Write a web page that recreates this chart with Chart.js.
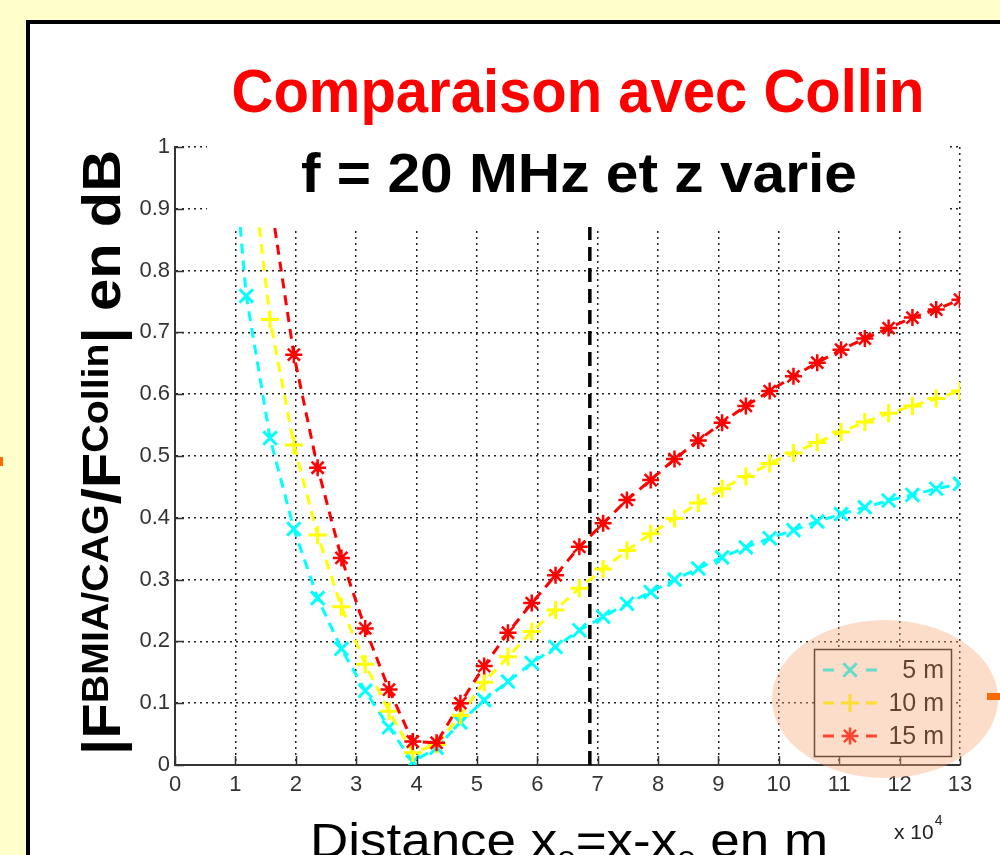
<!DOCTYPE html>
<html>
<head>
<meta charset="utf-8">
<script src="https://cdn.jsdelivr.net/npm/chart.js@4.4.0/dist/chart.umd.min.js"></script>
<style>
    html, body { margin: 0; padding: 0; background: #ffffcc; }
    #wrap { position: relative; width: 1000px; height: 855px; }
</style>
</head>
<body>
<div id="wrap"><canvas id="chart" width="1000" height="855"></canvas></div>
<script>
// distance x (m) of each computed point
const distances = [7860, 11800, 15740, 19680, 23620, 27560, 31500, 35440, 39380, 43320,
    47260, 51200, 55140, 59080, 63020, 66960, 70900, 74840, 78780, 82720,
    86660, 90600, 94540, 98480, 102420, 106360, 110300, 114240, 118180, 122120,
    126060, 130000];

// |F BMIA/CAG / F Collin| en dB, one array per height z
const ratio5m = [1.20, 0.759, 0.529, 0.382, 0.270, 0.188, 0.120, 0.061, 0.005, 0.028,
    0.069, 0.105, 0.135, 0.165, 0.191, 0.218, 0.240, 0.261, 0.280, 0.300,
    0.318, 0.336, 0.352, 0.367, 0.380, 0.394, 0.406, 0.417, 0.428, 0.437,
    0.447, 0.455];
const ratio10m = [1.50, 1.05, 0.721, 0.518, 0.372, 0.256, 0.163, 0.087, 0.020, 0.033,
    0.080, 0.134, 0.175, 0.216, 0.251, 0.286, 0.317, 0.347, 0.374, 0.399,
    0.424, 0.447, 0.467, 0.488, 0.505, 0.522, 0.539, 0.555, 0.569, 0.581,
    0.593, 0.605];
const ratio15m = [1.80, 1.25, 0.92, 0.664, 0.481, 0.335, 0.221, 0.122, 0.038, 0.036,
    0.100, 0.160, 0.214, 0.262, 0.307, 0.353, 0.391, 0.429, 0.461, 0.495,
    0.525, 0.554, 0.581, 0.605, 0.629, 0.651, 0.672, 0.690, 0.707, 0.724,
    0.737, 0.753];

const seriesLabels = ['5 m', '10 m', '15 m'];
const limitX = [68700, 68700];
const limitY = [0, 1];

const FONT = "'Liberation Sans', Arial, sans-serif";

function toPoints(xs, ys) {
    return xs.map((x, i) => ({ x: x, y: ys[i] }));
}

// draws a run of text parts (different sizes / offsets) squeezed to a given length
function drawRich(ctx, parts, fitWidth) {
    let total = 0;
    parts.forEach(p => {
        ctx.font = `${p.weight || 'normal'} ${p.size}px ${FONT}`;
        p.w = ctx.measureText(p.t).width;
        total += p.w;
    });
    const k = fitWidth / total;
    ctx.save();
    ctx.scale(k, 1);
    let x = 0;
    parts.forEach(p => {
        ctx.font = `${p.weight || 'normal'} ${p.size}px ${FONT}`;
        ctx.fillText(p.t, x, p.dy || 0);
        x += p.w;
    });
    ctx.restore();
}

function drawCentered(ctx, text, cx, baseline, font, fitWidth, color) {
    ctx.save();
    ctx.font = font;
    ctx.fillStyle = color;
    ctx.textBaseline = 'alphabetic';
    const w = ctx.measureText(text).width;
    ctx.translate(cx - fitWidth / 2, baseline);
    ctx.scale(fitWidth / w, 1);
    ctx.fillText(text, 0, 0);
    ctx.restore();
}

const framePlugin = {
    id: 'frame',
    beforeDraw(chart) {
        const ctx = chart.ctx;
        ctx.save();
        ctx.fillStyle = '#ffffcc';
        ctx.fillRect(0, 0, chart.width, chart.height);
        ctx.fillStyle = '#ffffff';
        ctx.fillRect(28, 22, 1000, 900);
        ctx.strokeStyle = '#000';
        ctx.lineWidth = 4;
        ctx.beginPath();
        ctx.moveTo(28, 870);
        ctx.lineTo(28, 22);
        ctx.lineTo(1010, 22);
        ctx.stroke();
        ctx.fillStyle = '#ff6a00';
        ctx.fillRect(0, 457, 3, 9);
        ctx.restore();
    }
};

const decorPlugin = {
    id: 'decor',
    afterDraw(chart) {
        const ctx = chart.ctx;
        const xs = chart.scales.x;
        const ys = chart.scales.y;
        const area = chart.chartArea;

        // inward tick marks, matlab style
        ctx.save();
        ctx.strokeStyle = '#333';
        ctx.lineWidth = 1.5;
        ctx.beginPath();
        ys.ticks.forEach(t => {
            const py = Math.round(ys.getPixelForValue(t.value)) + 0.5;
            ctx.moveTo(area.left, py);
            ctx.lineTo(area.left + 9, py);
        });
        xs.ticks.forEach(t => {
            const px = Math.round(xs.getPixelForValue(t.value)) + 0.5;
            ctx.moveTo(px, area.bottom);
            ctx.lineTo(px, area.bottom - 9);
        });
        ctx.stroke();
        ctx.restore();

        // white box behind the inner title
        ctx.save();
        ctx.fillStyle = '#ffffff';
        ctx.fillRect(207, 134, 743, 93);
        ctx.restore();

        drawCentered(ctx, 'Comparaison avec Collin', 578, 112, `bold 61px ${FONT}`, 693, '#ff0000');
        drawCentered(ctx, 'f = 20 MHz et z varie', 579, 192, `bold 56px ${FONT}`, 556, '#000000');

        // y axis title with superscripts
        ctx.save();
        ctx.fillStyle = '#000';
        ctx.translate(120, 755);
        ctx.rotate(-Math.PI / 2);
        drawRich(ctx, [
            { t: '|F', size: 53, weight: 'bold' },
            { t: 'BMIA/CAG', size: 36, weight: 'bold', dy: -12 },
            { t: '/F', size: 53, weight: 'bold' },
            { t: 'Collin', size: 36, weight: 'bold', dy: -12 },
            { t: '| en dB', size: 53, weight: 'bold' }
        ], 605);
        ctx.restore();

        // x axis title with subscripts
        ctx.save();
        ctx.fillStyle = '#000';
        ctx.translate(310, 857);
        drawRich(ctx, [
            { t: 'Distance x', size: 48 },
            { t: 'o', size: 30, dy: 10 },
            { t: '=x-x', size: 48 },
            { t: 'o', size: 30, dy: 10 },
            { t: ' en m', size: 48 }
        ], 518);
        ctx.restore();

        // exponent of the x axis
        ctx.save();
        ctx.fillStyle = '#222';
        ctx.font = `21px ${FONT}`;
        ctx.fillText('x 10', 894, 839);
        const ew = ctx.measureText('x 10').width;
        ctx.font = `14px ${FONT}`;
        ctx.fillText('4', 894 + ew + 1, 825);
        ctx.restore();

        // legend
        const series = chart.data.datasets.filter(d => d.label && seriesLabels.includes(d.label));
        const lx = 814, ly = 649, lw = 137, lh = 107;
        ctx.save();
        ctx.fillStyle = '#ffffff';
        ctx.fillRect(lx, ly, lw, lh);
        ctx.strokeStyle = '#111';
        ctx.lineWidth = 1.5;
        ctx.strokeRect(lx + 0.5, ly + 0.5, lw, lh);
        const rows = [670, 703, 736];
        seriesLabels.forEach((lab, i) => {
            const ds = series.find(d => d.label === lab);
            const y = rows[i];
            ctx.strokeStyle = ds.borderColor;
            ctx.lineWidth = 3;
            ctx.beginPath();
            ctx.moveTo(823, y); ctx.lineTo(834, y);
            ctx.moveTo(866, y); ctx.lineTo(877, y);
            ctx.stroke();
            ctx.lineWidth = ds.pointBorderWidth;
            Chart.helpers.drawPoint(ctx, {
                pointStyle: ds.pointStyle,
                radius: ds.pointRadius,
                rotation: 0,
                borderWidth: ds.pointBorderWidth
            }, 850, y);
            ctx.fillStyle = '#000';
            ctx.font = `25px ${FONT}`;
            ctx.textAlign = 'right';
            ctx.textBaseline = 'middle';
            ctx.fillText(lab, 944, y + 1);
        });
        ctx.restore();

        // peach highlight ellipse over the legend
        ctx.save();
        ctx.fillStyle = 'rgba(247, 170, 120, 0.4)';
        ctx.beginPath();
        ctx.ellipse(885, 699, 113, 79, 0, 0, Math.PI * 2);
        ctx.fill();
        ctx.fillStyle = '#ff6a00';
        ctx.fillRect(987, 693, 13, 7);
        ctx.restore();
    }
};

new Chart(document.getElementById('chart'), {
    type: 'line',
    data: {
        datasets: [
            {
                label: '15 m',
                data: toPoints(distances, ratio15m),
                borderColor: '#ff0000',
                backgroundColor: '#ff0000',
                borderWidth: 3,
                borderDash: [10, 7],
                pointStyle: 'star',
                pointRadius: 8.5,
                pointBorderWidth: 2.5,
                order: 1
            },
            {
                label: '10 m',
                data: toPoints(distances, ratio10m),
                borderColor: '#ffff00',
                backgroundColor: '#ffff00',
                borderWidth: 3,
                borderDash: [10, 7],
                pointStyle: 'cross',
                pointRadius: 9,
                pointBorderWidth: 3,
                order: 2
            },
            {
                label: '5 m',
                data: toPoints(distances, ratio5m),
                borderColor: '#00ffff',
                backgroundColor: '#00ffff',
                borderWidth: 3,
                borderDash: [10, 7],
                pointStyle: 'crossRot',
                pointRadius: 9.5,
                pointBorderWidth: 3,
                order: 3
            },
            {
                label: '',
                data: toPoints(limitX, limitY),
                borderColor: '#000000',
                borderWidth: 3.5,
                borderDash: [14, 7],
                pointRadius: 0,
                order: 4
            }
        ]
    },
    options: {
        responsive: false,
        devicePixelRatio: 1,
        animation: false,
        layout: { padding: { left: 0, top: 147, right: 40, bottom: 0 } },
        plugins: {
            legend: { display: false },
            tooltip: { enabled: false }
        },
        elements: { line: { tension: 0 } },
        scales: {
            x: {
                type: 'linear',
                min: 0,
                max: 130000,
                afterFit: s => { s.height = 90; },
                grid: { color: '#222', lineWidth: 1.5, drawTicks: false },
                border: { display: true, color: '#333', width: 2, dash: [2, 4] },
                ticks: {
                    stepSize: 10000,
                    padding: 7,
                    color: '#333',
                    font: { family: FONT, size: 22 },
                    callback: v => v / 10000
                }
            },
            y: {
                min: 0,
                max: 1,
                afterFit: s => { s.width = 175; },
                grid: { color: '#222', lineWidth: 1.5, drawTicks: false },
                border: { display: true, color: '#333', width: 2, dash: [2, 4] },
                ticks: {
                    stepSize: 0.1,
                    padding: 5,
                    color: '#333',
                    font: { family: FONT, size: 22 },
                    callback: v => +v.toFixed(1)
                }
            }
        }
    },
    plugins: [framePlugin, decorPlugin]
});
</script>
</body>
</html>
